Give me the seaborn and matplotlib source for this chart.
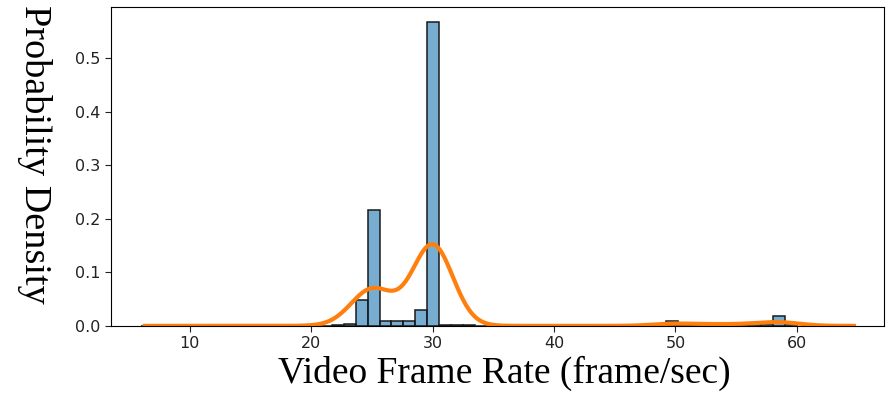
import numpy as np
import pandas as pd
import matplotlib
matplotlib.use("Agg")
import matplotlib.pyplot as plt
import seaborn as sns

# Histogram bins over 6..60 fps, 55 bins; densities
bin_start, bin_end, n_bins = 6.0, 60.0, 55
densities = [
    0, 0, 0, 0, 0, 0, 0, 0, 0, 0,          # 6 - 15.8
    0, 0, 0, 0, 0, 0.0004, 0.002, 0.004,   # 15.8 - 23.7
    0.048, 0.216, 0.0093, 0.0093, 0.0093, 0.030, 0.567,  # 23.7 - 30.5
    0.0015, 0.001, 0.001, 0.0006,          # 30.5 - 34.5
    0, 0, 0, 0, 0, 0, 0, 0, 0, 0, 0, 0, 0, 0,  # 34.5 - 48.2
    0.002, 0.0099, 0.003, 0.003, 0.003, 0.003, 0.003, 0.003, 0.003,
    0.004, 0.0187, 0.004,                  # 48.2 - 60
]

xlabel = "Video Frame Rate (frame/sec)"
ylabel = "Probability Density"
yticks = [0.0, 0.1, 0.2, 0.3, 0.4, 0.5]
xticks = [10, 20, 30, 40, 50, 60]

edges = np.linspace(bin_start, bin_end, n_bins + 1)
centers = (edges[:-1] + edges[1:]) / 2
df = pd.DataFrame({"fps": centers, "density": densities})

fig = plt.figure(figsize=(8.86, 3.95), dpi=100)
ax = fig.add_axes([0.125, 0.175, 0.873, 0.807])

sns.histplot(data=df, x="fps", weights="density", bins=n_bins,
             binrange=(bin_start, bin_end), stat="count",
             color="#1f77b4", alpha=0.6, edgecolor="#1a1a1a", linewidth=1.1, ax=ax)

# KDE of the same weighted distribution; kernel width ~1.65 fps
w = np.asarray(densities)
V1, V2 = w.sum(), (w ** 2).sum()
mu = np.average(centers, weights=w)
var_unbiased = (w * (centers - mu) ** 2).sum() / (V1 - V2 / V1)
bw = 1.65 / np.sqrt(var_unbiased)
sns.kdeplot(data=df, x="fps", weights="density", bw_method=bw, cut=10,
            clip=(6.3, 64.7), gridsize=800, color="#ff7f0e", linewidth=3, ax=ax)

ax.set_xlim(3.5, 67.2)
ax.set_ylim(0, 0.595)
ax.set_xticks(xticks)
ax.set_yticks(yticks)
ax.set_yticklabels([f"{v:.1f}" for v in yticks])
ax.tick_params(labelsize=11.5, length=4, colors="#222222")
ax.set_xlabel(xlabel, family="Liberation Serif", fontsize=27, labelpad=3, x=0.509)
ax.set_ylabel("")
fig.text(0.039, 0.987, ylabel, rotation=-90, family="Liberation Serif",
         fontsize=27.5, ha="center", va="top")

fig.savefig("out.png", dpi=100)
